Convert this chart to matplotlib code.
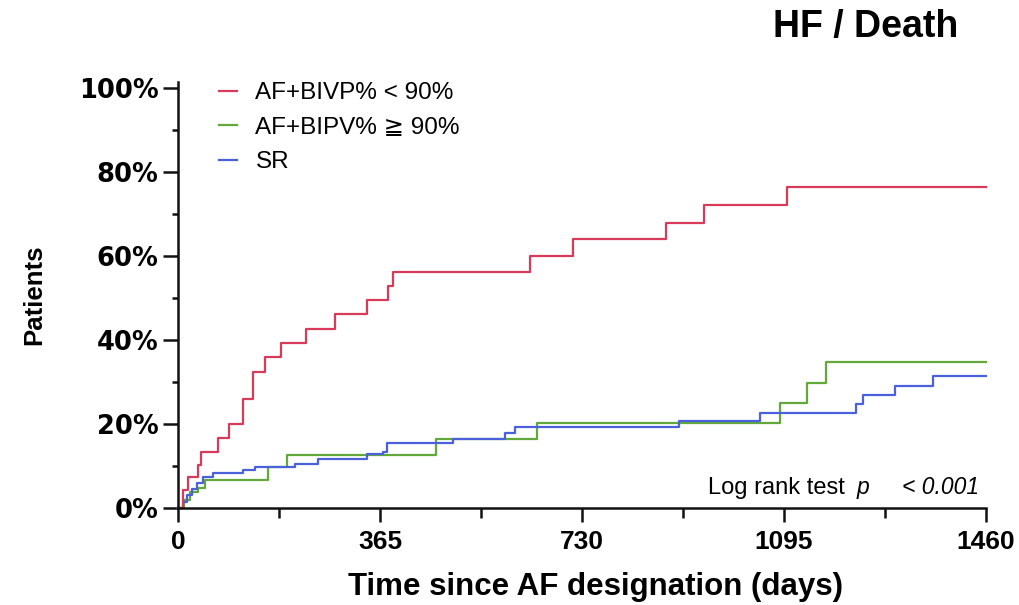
import matplotlib
matplotlib.use("Agg")
import matplotlib.pyplot as plt
from matplotlib.ticker import MultipleLocator, FixedLocator

plt.rcParams['font.family'] = ['Liberation Sans', 'DejaVu Sans']

# Cumulative incidence of HF hospitalisation / death (percent of patients)
red_days = [0, 9, 18, 36, 42, 72, 92, 117, 136, 157, 186, 231, 284, 342, 379, 389,
            636, 714, 882, 950, 1100, 1460]
red_pct = [0, 4.3, 7.4, 10.2, 13.3, 16.7, 20.0, 26.0, 32.4, 36.0, 39.3, 42.6, 46.2,
           49.5, 53.0, 56.2, 60.0, 64.0, 68.0, 72.3, 76.4, 76.4]

green_days = [0, 11, 22, 36, 49, 163, 197, 466, 649, 1088, 1137, 1171, 1460]
green_pct = [0, 1.9, 3.8, 4.8, 6.7, 9.8, 12.6, 16.4, 20.2, 25.0, 29.8, 34.8, 34.8]

blue_days = [0, 9, 16, 25, 34, 45, 63, 117, 139, 211, 253, 342, 370, 378, 497, 591,
             609, 905, 1052, 1225, 1238, 1296, 1364, 1460]
blue_pct = [0, 1.5, 3.0, 4.5, 6.0, 7.3, 8.3, 9.0, 9.8, 10.6, 11.6, 12.9, 13.3, 15.4,
            16.4, 17.8, 19.3, 20.7, 22.6, 24.8, 26.9, 29.0, 31.4, 31.4]

series_labels = ["AF+BIVP% < 90%", "AF+BIPV% \u2267 90%", "SR"]
series_colors = ["#d83a5a", "#62a83a", "#4a60dc"]

x_ticks = [0, 365, 730, 1095, 1460]
y_ticks = [0, 20, 40, 60, 80, 100]
y_ticklabels = ["0%", "20%", "40%", "60%", "80%", "100%"]

fig = plt.figure(figsize=(10.2, 6.05), dpi=100)
ax = fig.add_axes([178 / 1020, 97 / 605, 808 / 1020, 426 / 605])

for d, p, lab, col in zip([green_days, blue_days, red_days],
                          [green_pct, blue_pct, red_pct],
                          [series_labels[1], series_labels[2], series_labels[0]],
                          [series_colors[1], series_colors[2], series_colors[0]]):
    ax.step(d, p, where='post', color=col, lw=1.6, label=lab, clip_on=False)

ax.set_xlim(0, 1460)
ax.set_ylim(0, 101.5)

for s in ['top', 'right']:
    ax.spines[s].set_visible(False)
for s in ['left', 'bottom']:
    ax.spines[s].set_linewidth(1.8)
    ax.spines[s].set_color('#111111')

ax.xaxis.set_major_locator(FixedLocator(x_ticks))
ax.xaxis.set_minor_locator(MultipleLocator(182.5))
ax.yaxis.set_major_locator(FixedLocator(y_ticks))
ax.yaxis.set_minor_locator(MultipleLocator(10))
ax.set_xticklabels([str(t) for t in x_ticks])
ax.set_yticklabels(y_ticklabels)

ax.tick_params(axis='x', which='major', direction='out', length=10, width=1.8,
               pad=6, labelsize=19, color='#111111')
ax.tick_params(axis='x', which='minor', direction='out', length=7, width=1.8,
               color='#111111')
ax.tick_params(axis='y', which='major', direction='out', length=11, width=1.8,
               pad=3, labelsize=18.5, color='#111111')
ax.tick_params(axis='y', which='minor', direction='out', length=4, width=1.8,
               color='#111111')
for lbl in ax.get_xticklabels():
    lbl.set_fontweight('bold')
for lbl in ax.get_yticklabels():
    lbl.set_fontweight('bold')
    lbl.set_family(['DejaVu Sans'])

fig.text(958 / 1020, 1 - 37 / 605, "HF / Death", ha='right', va='baseline',
         fontsize=27, fontweight='bold')
fig.text(595 / 1020, 1 - 595 / 605, "Time since AF designation (days)",
         ha='center', va='baseline', fontsize=22.5, fontweight='bold')
fig.text(46 / 1020, 1 - 295 / 605, "Patients", rotation=90, ha='right',
         va='center', fontsize=18.5, fontweight='bold')

# log-rank annotation: regular prefix, italic statistic
fig.text(979 / 1020, 1 - 494 / 605, "< 0.001", ha='right', va='baseline',
         fontsize=16.5, style='italic')
fig.text(857 / 1020, 1 - 494 / 605, "p", ha='left', va='baseline',
         fontsize=16.5, style='italic')
fig.text(845 / 1020, 1 - 494 / 605, "Log rank test", ha='right', va='baseline',
         fontsize=17)

handles, labels = ax.get_legend_handles_labels()
order = [labels.index(l) for l in series_labels]
leg = fig.legend([handles[i] for i in order], [labels[i] for i in order],
                 loc='upper left', bbox_to_anchor=(219 / 1020, 1 - 82 / 605),
                 frameon=False, fontsize=17.5, handlelength=0.75,
                 handletextpad=0.75, labelspacing=0.52, borderpad=0,
                 borderaxespad=0)

fig.savefig("out.png", dpi=100, facecolor='white')
